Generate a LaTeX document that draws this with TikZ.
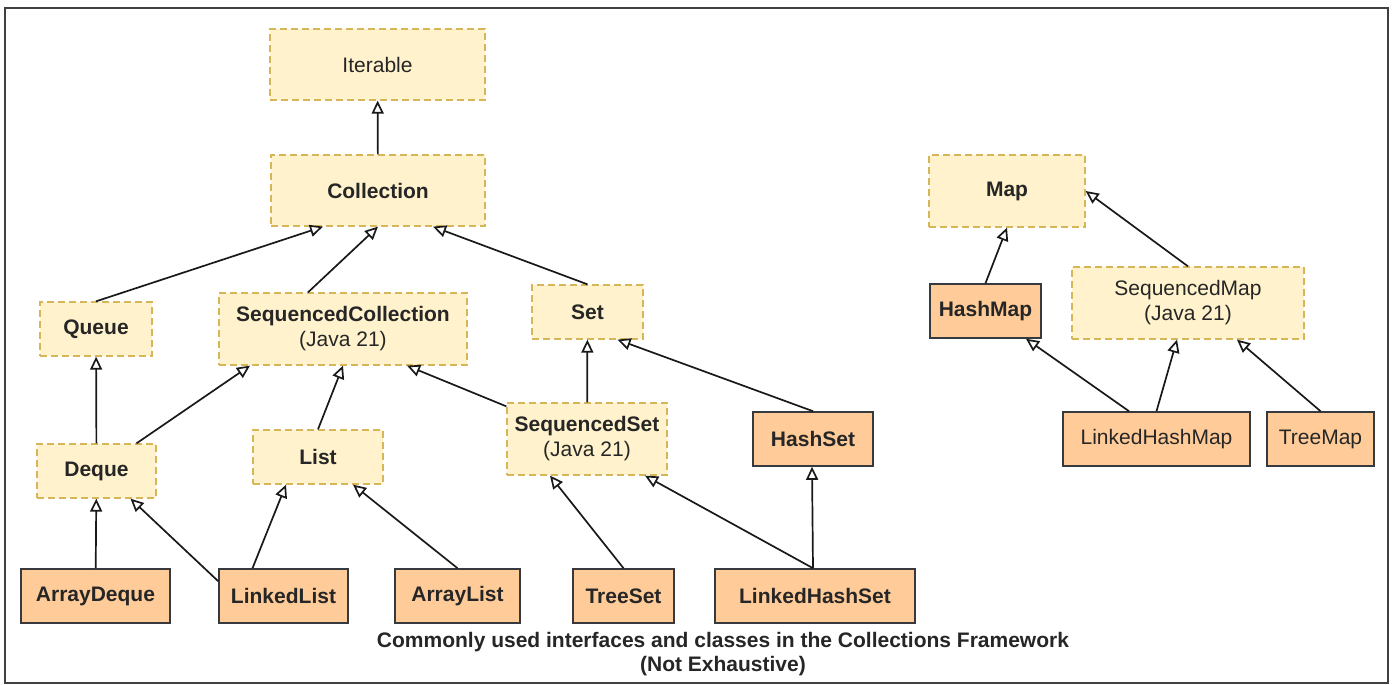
\documentclass[tikz,border=0pt]{standalone}
\usepackage{fontspec}
\setmainfont{Liberation Sans}
\usetikzlibrary{arrows.meta}
\definecolor{ifacefill}{HTML}{FFF2CC}
\definecolor{ifaceline}{HTML}{D6B656}
\definecolor{clsfill}{HTML}{FFCC99}
\definecolor{clsline}{HTML}{36393D}
\tikzset{>={Triangle[open,length=13pt,width=12pt]}}
\tikzstyle{iface} = [draw=ifaceline, fill=ifacefill, dash pattern=on 7pt off 4pt,
    line width=1.3pt, inner sep=0pt, align=center, text=black!85,
    font=\fontsize{21}{25}\selectfont]
\tikzstyle{cls} = [draw=clsline, fill=clsfill, line width=1.6pt, inner sep=0pt,
    minimum height=54pt, text=black!85, font=\fontsize{21}{25}\selectfont]
\tikzstyle{impl} = [->, line width=1.7pt, draw=black!90]

\begin{document}
\begin{tikzpicture}[x=1pt,y=-1pt]
\useasboundingbox (0,0) rectangle (1392,685);
    %frame
    \draw[line width=1.8pt, black!75] (5,8) rectangle (1388,683);
    %interfaces
    \node[iface, minimum width=215pt, minimum height=71pt] (iterable) at (377.5,64.5) {Iterable};
    \node[iface, minimum width=214pt, minimum height=71pt] (collection) at (378,190.5) {\textbf{Collection}};
    \node[iface, minimum width=112pt, minimum height=54pt] (queue) at (96,329) {\textbf{Queue}};
    \node[iface, minimum width=248pt, minimum height=72pt] (seqcoll) at (343,329) {\textbf{SequencedCollection}\\(Java 21)};
    \node[iface, minimum width=111pt, minimum height=54pt] (set) at (587.5,312) {\textbf{Set}};
    \node[iface, minimum width=119pt, minimum height=54pt] (deque) at (96.5,471) {\textbf{Deque}};
    \node[iface, minimum width=130pt, minimum height=54pt] (list) at (318,457) {\textbf{List}};
    \node[iface, minimum width=160pt, minimum height=72pt] (seqset) at (587,439) {\textbf{SequencedSet}\\(Java 21)};
    \node[iface, minimum width=156pt, minimum height=72pt] (map) at (1007,191) {\textbf{Map}};
    \node[iface, minimum width=232pt, minimum height=72pt] (seqmap) at (1188,303) {SequencedMap\\(Java 21)};
    %classes
    \node[cls, minimum width=120pt] (hashset) at (813,439) {\textbf{HashSet}};
    \node[cls, minimum width=149pt] (arraydeque) at (95.5,596) {\textbf{ArrayDeque}};
    \node[cls, minimum width=129pt] (linkedlist) at (283.5,596) {\textbf{LinkedList}};
    \node[cls, minimum width=125pt] (arraylist) at (457.5,596) {\textbf{ArrayList}};
    \node[cls, minimum width=101pt] (treeset) at (623.5,596) {\textbf{TreeSet}};
    \node[cls, minimum width=200pt] (linkedhashset) at (815,596) {\textbf{LinkedHashSet}};
    \node[cls, minimum width=111pt] (hashmap) at (985.5,311) {\textbf{HashMap}};
    \node[cls, minimum width=187pt] (linkedhashmap) at (1156.5,439) {LinkedHashMap};
    \node[cls, minimum width=107pt] (treemap) at (1320.5,439) {TreeMap};
    %arrows
    \draw[impl] (collection) -- (iterable);
    \draw[impl] (queue.north) -- ([xshift=-55pt]collection.south);
    \draw[impl] ([xshift=-35pt]seqcoll.north) -- (collection.south);
    \draw[impl] (set.north) -- ([xshift=55pt]collection.south);
    \draw[impl] (deque) -- (queue);
    \draw[impl] ([xshift=40pt]deque.north) -- ([xshift=-93pt]seqcoll.south);
    \draw[impl] (list.north) -- (seqcoll.south);
    \draw[impl] ([yshift=-4pt]seqset.north west) -- ([xshift=64pt]seqcoll.south);
    \draw[impl] (seqset) -- (set);
    \draw[impl] (hashset.north) -- ([xshift=30pt]set.south);
    \draw[impl] (arraydeque) -- (deque);
    \draw[impl] ([yshift=-13pt]linkedlist.north west) -- ([xshift=34pt]deque.south);
    \draw[impl] ([xshift=-31pt]linkedlist.north) -- ([xshift=-32pt]list.south);
    \draw[impl] (arraylist.north) -- ([xshift=35pt]list.south);
    \draw[impl] (treeset.north) -- ([xshift=-37pt]seqset.south);
    \coordinate (lhstop) at ([xshift=-2pt]linkedhashset.north);
    \draw[impl] (lhstop) -- ([xshift=58pt]seqset.south);
    \draw[impl] (lhstop) -- ([xshift=-1pt]hashset.south);
    \draw[impl] (hashmap.north) -- (map.south);
    \draw[impl] (seqmap.north) -- (map.east);
    \draw[impl] ([xshift=-27.5pt]linkedhashmap.north) -- ([xshift=40.5pt]hashmap.south);
    \draw[impl] (linkedhashmap.north) -- ([xshift=-11pt]seqmap.south);
    \draw[impl] (treemap.north) -- ([xshift=49pt]seqmap.south);
    %caption
    \node[font=\fontsize{21}{24}\selectfont\bfseries, align=center, text=black!85, inner sep=0pt]
        (caption) at (723,654) {Commonly used interfaces and classes in the Collections Framework\\(Not Exhaustive)};
\end{tikzpicture}
\end{document}
